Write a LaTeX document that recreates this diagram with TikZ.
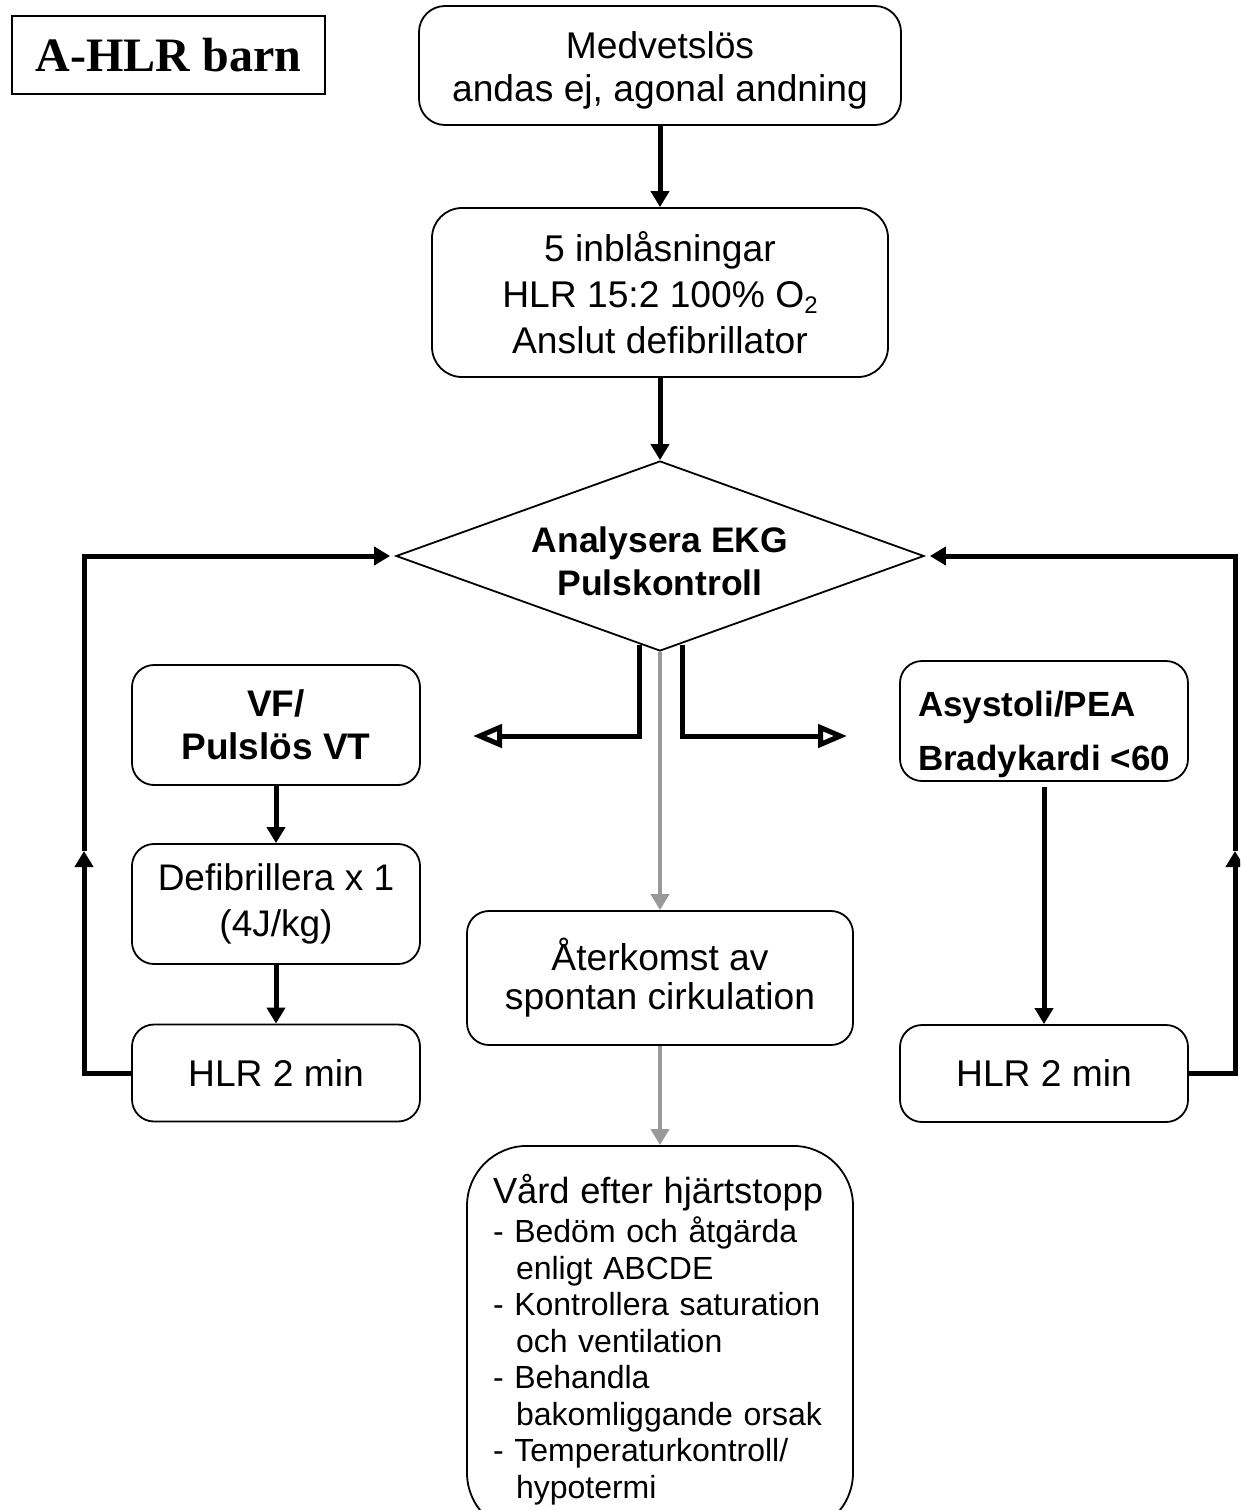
\documentclass[tikz,border=0pt]{standalone}
\usepackage{fontspec}
\setmainfont{Liberation Sans}
\newfontfamily\titlefont{Liberation Serif}
\usetikzlibrary{arrows.meta,shapes.geometric,calc}

\definecolor{roscgray}{RGB}{153,153,153}

% two-line block with explicit height/depth so the text can sit off-centre in its frame
\newcommand{\liftedlines}[4]{\raisebox{0pt}[#1][#2]{\begin{tabular}[t]{@{}#3@{}}#4\end{tabular}}}

\begin{document}
\begin{tikzpicture}[x=1pt,y=-1pt,
  box/.style={draw, line width=1.8pt, rounded corners=22pt, align=center,
    inner sep=0pt, font=\fontsize{37.2}{43}\selectfont},
  boldbox/.style={box, font=\fontsize{37}{43}\selectfont\bfseries},
  flow/.style={line width=5pt, -{Triangle[length=16pt,width=18pt]}},
  split/.style={line width=5pt, -{Triangle[open,length=29pt,width=23pt]}},
  rosc/.style={line width=4pt, draw=roscgray,
    -{Triangle[length=16pt,width=18pt,fill=roscgray]}},
]
\useasboundingbox (0,0) rectangle (1240,1510);
\clip (0,0) rectangle (1240,1510);

% title
\node[draw, line width=1.8pt, minimum width=313, minimum height=78, inner sep=0pt,
  font=\titlefont\bfseries\fontsize{48}{52}\selectfont] (title) at (168.5,55) {A-HLR barn};

% main column
\node[box, minimum width=482, minimum height=119, rounded corners=26pt] (b1) at (660,65.5)
  {\liftedlines{30pt}{44pt}{c}{Medvetslös\\andas ej, agonal andning}};
\node[box, minimum width=456, minimum height=169, rounded corners=30pt,
  font=\fontsize{37.2}{46}\selectfont] (b2) at (660,292.5)
  {5 inblåsningar\\HLR 15:2 100\% O{\fontsize{24}{24}\selectfont\raisebox{-6pt}{2}}\\Anslut defibrillator};
\node[diamond, draw, line width=1.8pt, aspect=2.78, minimum width=528, minimum height=190,
  inner sep=0pt, font=\fontsize{35.5}{43}\selectfont\bfseries] (dia) at (660,556)
  {\liftedlines{30pt}{37pt}{c}{Analysera EKG\\Pulskontroll}};

% shockable branch
\node[boldbox, minimum width=288, minimum height=120] (vf) at (276,725) {VF/\\Pulslös VT};
\node[box, minimum width=288, minimum height=120, font=\fontsize{37}{46}\selectfont] (def)
  at (276,904) {Defibrillera x 1\\(4J/kg)};
\node[box, minimum width=288, minimum height=97] (hlrL) at (276,1073) {HLR 2 min};

% non-shockable branch
\node[box, minimum width=288, minimum height=120, font=\fontsize{35}{54}\selectfont\bfseries]
  (asy) at (1044,721)
  {\liftedlines{25pt}{35pt}{l}{Asystoli/PEA\\Bradykardi <60}};
\node[box, minimum width=288, minimum height=97] (hlrR) at (1044,1073.5) {HLR 2 min};

% return of circulation and after-care
\node[box, minimum width=386, minimum height=134, font=\fontsize{37.2}{39}\selectfont] (ros)
  at (660,978) {Återkomst av\\spontan cirkulation};
\node[box, rounded corners=60pt, anchor=north, minimum width=386, inner xsep=26pt,
  inner ysep=28pt, text width=334pt, align=left, font=\fontsize{32}{36.5}\selectfont] (post)
  at (660,1145)
  {{\fontsize{36.3}{36.5}\selectfont Vård efter hjärtstopp}\\[3pt]
   - Bedöm och åtgärda\\
   \hspace*{23pt}enligt ABCDE\\
   - Kontrollera saturation\\
   \hspace*{23pt}och ventilation\\
   - Behandla\\
   \hspace*{23pt}bakomliggande orsak\\
   - Temperaturkontroll/\\
   \hspace*{23pt}hypotermi};

% connectors
\coordinate (vfarrow) at (473,736);
\coordinate (asyarrow) at (847,736);
\coordinate (lmid) at (84,851);
\coordinate (rmid) at (1235,851);

\draw[flow] (b1) -- (b2);
\draw[flow] (b2) -- (dia);
\draw[split] ($(dia.south)+(-21,-7)$) |- (vfarrow);
\draw[split] ($(dia.south)+(22,-7)$) |- (asyarrow);
\draw[rosc] (dia.south) -- (ros.north);
\draw[rosc] (ros) -- (post);

\draw[flow] (vf) -- (def);
\draw[flow] (def) -- (hlrL);
\draw[flow, shorten <=5pt] (asy) -- (hlrR);

\draw[flow] (hlrL.west) -| (lmid);
\draw[flow, shorten >=5pt] (lmid) |- (dia.west);
\draw[flow] (hlrR.east) -| (rmid);
\draw[flow, shorten >=5pt] (rmid) |- (dia.east);
\end{tikzpicture}
\end{document}
